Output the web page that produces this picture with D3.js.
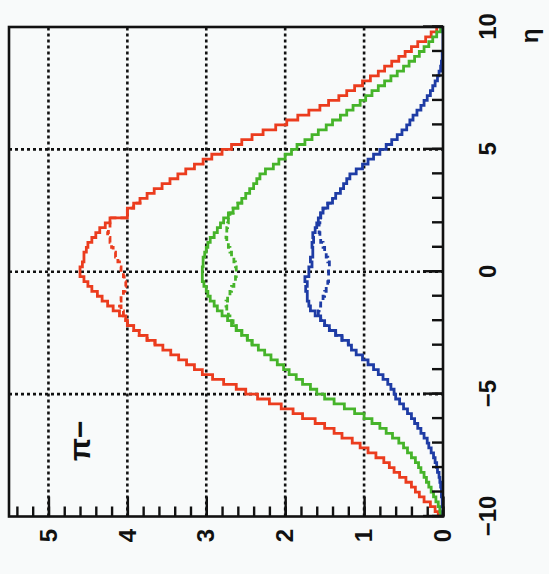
<!DOCTYPE html>
<html>
<head>
<meta charset="utf-8">
<script src="https://cdn.jsdelivr.net/npm/d3@7"></script>
<style>
  html, body { margin: 0; padding: 0; background: #f8fafa; }
  svg { display: block; }
  text { font-family: "Liberation Sans", Arial, sans-serif; }
</style>
</head>
<body>
<svg id="chart" width="549" height="574"></svg>
<script>
// Pseudorapidity binning: 100 bins of width 0.2 from -10 to 10
const etaMin = -10, etaMax = 10, binWidth = 0.2;

// dN/deta, solid histograms (one value per bin, eta = -10 ... 10)
const redSolid = [
  0.06, 0.10, 0.16, 0.24, 0.30,  0.35, 0.40, 0.47, 0.55, 0.62,
  0.68, 0.75, 0.85, 0.95, 1.05,  1.15, 1.28, 1.38, 1.50, 1.62,
  1.78, 1.90, 2.05, 2.20, 2.35,  2.50, 2.62, 2.78, 2.92, 3.05,
  3.15, 3.25, 3.35, 3.45, 3.55,  3.65, 3.75, 3.85, 3.92, 4.00,
  4.02, 4.10, 4.18, 4.25, 4.32,  4.38, 4.45, 4.50, 4.55, 4.60,
  4.60, 4.57, 4.55, 4.55, 4.52,  4.50, 4.45, 4.40, 4.35, 4.28,
  4.22, 4.00, 4.00, 3.92, 3.84,  3.75, 3.66, 3.56, 3.46, 3.36,
  3.26, 3.15, 3.04, 2.93, 2.80,  2.68, 2.55, 2.42, 2.28, 2.12,
  1.98, 1.84, 1.70, 1.56, 1.45,  1.32, 1.22, 1.12, 1.02, 0.92,
  0.82, 0.74, 0.65, 0.56, 0.48,  0.40, 0.32, 0.22, 0.15, 0.08
];
const greenSolid = [
  0.03, 0.04, 0.06, 0.09, 0.12,  0.15, 0.18, 0.21, 0.24, 0.28,
  0.31, 0.35, 0.40, 0.45, 0.50,  0.56, 0.64, 0.72, 0.80, 0.90,
  1.00, 1.12, 1.25, 1.38, 1.50,  1.60, 1.68, 1.78, 1.86, 1.95,
  2.02, 2.10, 2.18, 2.26, 2.34,  2.42, 2.48, 2.55, 2.62, 2.68,
  2.73, 2.80, 2.86, 2.90, 2.95,  2.98, 3.00, 3.03, 3.05, 3.05,
  3.05, 3.04, 3.04, 3.02, 3.00,  2.98, 2.95, 2.90, 2.86, 2.82,
  2.78, 2.72, 2.66, 2.60, 2.55,  2.50, 2.45, 2.40, 2.36, 2.32,
  2.25, 2.15, 2.08, 2.00, 1.92,  1.85, 1.75, 1.66, 1.58, 1.48,
  1.40, 1.30, 1.22, 1.14, 1.05,  0.98, 0.90, 0.82, 0.74, 0.66,
  0.58, 0.50, 0.43, 0.36, 0.30,  0.24, 0.18, 0.13, 0.08, 0.03
];
const blueSolid = [
  0.00, 0.00, 0.01, 0.01, 0.02,  0.02, 0.03, 0.04, 0.05, 0.07,
  0.08, 0.10, 0.12, 0.15, 0.18,  0.20, 0.24, 0.28, 0.32, 0.36,
  0.40, 0.45, 0.50, 0.55, 0.60,  0.62, 0.66, 0.70, 0.76, 0.82,
  0.88, 0.95, 1.02, 1.10, 1.16,  1.20, 1.28, 1.36, 1.44, 1.50,
  1.55, 1.62, 1.68, 1.70, 1.72,  1.72, 1.74, 1.72, 1.75, 1.70,
  1.70, 1.66, 1.68, 1.65, 1.65,  1.66, 1.64, 1.65, 1.62, 1.60,
  1.58, 1.55, 1.52, 1.46, 1.40,  1.36, 1.30, 1.26, 1.22, 1.18,
  1.10, 1.02, 0.95, 0.88, 0.80,  0.72, 0.65, 0.58, 0.52, 0.46,
  0.42, 0.38, 0.33, 0.28, 0.24,  0.20, 0.16, 0.13, 0.10, 0.07,
  0.05, 0.03, 0.02, 0.01, 0.01,  0.00, 0.00, 0.00, 0.00, 0.00
];

// Dashed histograms: they follow the solid ones except around mid-rapidity
const dashedStart = -3;   // first bin edge of the dashed arrays
const redDashed = [
  3.65, 3.75, 3.85, 3.92, 4.00,  4.02, 4.05, 4.08, 4.10, 4.08,
  4.05, 4.03, 4.02, 4.04, 4.05,  4.08, 4.10, 4.12, 4.15, 4.18,
  4.20, 4.22, 4.25, 4.24, 4.22,  4.20, 4.00, 4.00, 3.92, 3.84
];
const greenDashed = [
  2.42, 2.48, 2.55, 2.62, 2.66,  2.70, 2.72, 2.74, 2.75, 2.73,
  2.70, 2.68, 2.65, 2.63, 2.62,  2.62, 2.63, 2.65, 2.68, 2.70,
  2.72, 2.74, 2.75, 2.74, 2.73,  2.72, 2.70, 2.66, 2.60, 2.55
];
const blueDashed = [
  1.20, 1.28, 1.36, 1.44, 1.50,  1.55, 1.58, 1.57, 1.55, 1.52,
  1.50, 1.48, 1.46, 1.45, 1.45,  1.45, 1.44, 1.46, 1.48, 1.50,
  1.52, 1.55, 1.56, 1.57, 1.57,  1.56, 1.55, 1.52, 1.46, 1.40
];

const etaTicks = [-10, -5, 0, 5, 10];
const etaMinorTicks = d3.range(-10, 11, 1);
const yTicks = [0, 1, 2, 3, 4, 5];
const yMinorTicks = d3.range(0, 5.51, 0.2).map(v => +v.toFixed(1));
const yMax = 5.5;

const colors = { red: "#eb3c1e", green: "#46b42a", blue: "#1e3ca5" };

// Plot frame on the page; the plot is drawn turned a quarter turn
// counter-clockwise, so eta runs upward and dN/deta runs leftward.
const frame = { left: 9, right: 443, top: 27, bottom: 516.5 };
const W = frame.bottom - frame.top;   // length of the eta axis
const H = frame.right - frame.left;   // length of the value axis

const svg = d3.select("#chart");
const g = svg.append("g")
  .attr("transform", `translate(${frame.left},${frame.bottom}) rotate(-90)`);

const x = d3.scaleLinear().domain([etaMin, etaMax]).range([0, W]);
const y = d3.scaleLinear().domain([0, yMax]).range([H, 0]);

g.append("clipPath").attr("id", "plotClip")
  .append("rect").attr("width", W).attr("height", H);

// Dotted grid
const grid = g.append("g")
  .attr("stroke", "#111").attr("stroke-width", 2.6)
  .attr("stroke-dasharray", "3,3");
grid.selectAll(".gx").data([-5, 0, 5]).join("line")
  .attr("x1", d => x(d)).attr("x2", d => x(d))
  .attr("y1", 0).attr("y2", H);
grid.selectAll(".gy").data([1, 2, 3, 4, 5]).join("line")
  .attr("x1", 0).attr("x2", W)
  .attr("y1", d => y(d)).attr("y2", d => y(d));

// Histogram step lines
function histPoints(values, start) {
  const pts = values.map((v, i) => [start + i * binWidth, v]);
  pts.push([start + values.length * binWidth, values[values.length - 1]]);
  return pts;
}
const step = d3.line()
  .x(d => x(d[0])).y(d => y(d[1]))
  .curve(d3.curveStepAfter);

const plot = g.append("g").attr("clip-path", "url(#plotClip)");
const series = [
  { values: redSolid,   color: colors.red,   start: etaMin,      dash: null },
  { values: greenSolid, color: colors.green, start: etaMin,      dash: null },
  { values: blueSolid,  color: colors.blue,  start: etaMin,      dash: null },
  { values: redDashed,   color: colors.red,   start: dashedStart, dash: "6,4" },
  { values: greenDashed, color: colors.green, start: dashedStart, dash: "6,4" },
  { values: blueDashed,  color: colors.blue,  start: dashedStart, dash: "6,4" }
];
plot.selectAll("path.hist").data(series).join("path")
  .attr("class", "hist")
  .attr("d", d => step(histPoints(d.values, d.start)))
  .attr("fill", "none")
  .attr("stroke", d => d.color)
  .attr("stroke-width", 2.8)
  .attr("stroke-dasharray", d => d.dash);

// Axes: ticks point into the plot
const fontSize = 24;
const fmt = d => d < 0 ? "\u2212" + Math.abs(d) : String(d);
g.append("g").attr("transform", `translate(0,${H})`)
  .call(d3.axisBottom(x).tickValues(etaTicks).tickSize(-20).tickPadding(36)
    .tickFormat(fmt));
g.append("g").attr("transform", `translate(0,${H})`)
  .call(d3.axisBottom(x).tickValues(etaMinorTicks).tickSize(-11).tickFormat(""));

const yAxis = g.append("g")
  .call(d3.axisLeft(y).tickValues(yTicks).tickSize(-20).tickFormat(fmt));
g.append("g")
  .call(d3.axisLeft(y).tickValues(yMinorTicks).tickSize(-10).tickFormat(""));

g.selectAll(".domain").remove();
g.selectAll(".tick line").attr("stroke", "#111").attr("stroke-width", 2.4);
g.selectAll(".tick text")
  .attr("fill", "#111")
  .attr("font-size", fontSize)
  .attr("font-weight", "bold");
yAxis.selectAll(".tick text")
  .attr("text-anchor", "middle").attr("x", -19);

// Frame
g.append("rect").attr("width", W).attr("height", H)
  .attr("fill", "none").attr("stroke", "#111").attr("stroke-width", 2.6);

// Labels
g.append("text")
  .attr("x", x(9.64)).attr("y", H + 86)
  .attr("text-anchor", "middle").attr("dominant-baseline", "central")
  .attr("font-size", 24).attr("font-weight", "bold").attr("fill", "#111")
  .text("\u03b7");
g.append("text")
  .attr("x", x(-6.9)).attr("y", y(5.5) + 70)
  .attr("text-anchor", "middle").attr("dominant-baseline", "central")
  .attr("font-size", 30).attr("font-weight", "bold").attr("fill", "#111")
  .text("\u03c0\u2212");
</script>
</body>
</html>
